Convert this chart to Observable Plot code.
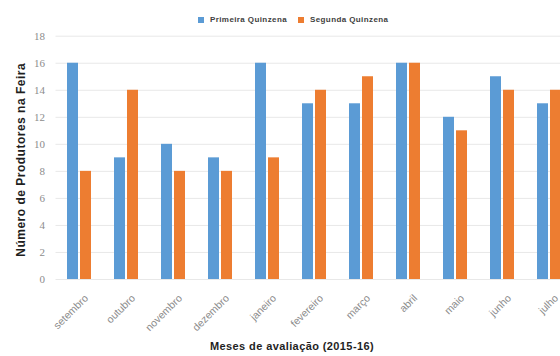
<!DOCTYPE html>
<html>
<head>
<meta charset="utf-8">
<script src="https://cdn.jsdelivr.net/npm/d3@7"></script>
<script src="https://cdn.jsdelivr.net/npm/@observablehq/plot@0.6"></script>
<style>
  html, body { margin: 0; padding: 0; background: #fff; overflow: hidden; }
  #chart { width: 560px; position: relative; }
  .legend { position: relative; height: 28px; font-family: "Liberation Sans", Arial, sans-serif; font-weight: 700; font-size: 8px; letter-spacing: 0.4px; color: #404040; }
  .legend .item { position: absolute; top: 16px; display: flex; align-items: center; white-space: nowrap; line-height: 8px; }
  .legend .sw { width: 6px; height: 6px; margin-right: 6px; }
  .titulo-y { letter-spacing: 0.5px; }
  .titulo-x { letter-spacing: 0.4px; }
</style>
</head>
<body>
<div id="chart"></div>
<script>
// Número de produtores presentes na feira, por quinzena
const meses = ["setembro", "outubro", "novembro", "dezembro", "janeiro", "fevereiro", "março", "abril", "maio", "junho", "julho"];
const primeiraQuinzena = [16, 9, 10, 9, 16, 13, 13, 16, 12, 15, 13];
const segundaQuinzena = [8, 14, 8, 8, 9, 14, 15, 16, 11, 14, 14];
const series = ["Primeira Quinzena", "Segunda Quinzena"];
const cores = ["#5B9BD5", "#ED7D31"];
const yTicks = [0, 2, 4, 6, 8, 10, 12, 14, 16, 18];

const linhas1 = meses.map((m, i) => ({mes: m, valor: primeiraQuinzena[i]}));
const linhas2 = meses.map((m, i) => ({mes: m, valor: segundaQuinzena[i]}));

const root = document.getElementById("chart");

// Legenda
const legend = document.createElement("div");
legend.className = "legend";
const posLegenda = [198, 298];
series.forEach((s, i) => {
  const item = document.createElement("div");
  item.className = "item";
  item.style.left = posLegenda[i] + "px";
  const sw = document.createElement("span");
  sw.className = "sw";
  sw.style.background = cores[i];
  const tx = document.createElement("span");
  tx.textContent = s;
  item.append(sw, tx);
  legend.append(item);
});
root.append(legend);

const plot = Plot.plot({
  width: 560,
  height: 328,
  marginLeft: 55.5,
  marginRight: -12.5,
  marginTop: 7.7,
  marginBottom: 77,
  x: {type: "band", domain: meses, padding: 0, round: false, axis: null},
  y: {domain: [0, 18]},
  marks: [
    Plot.ruleY(yTicks, {stroke: "#e8e8e8", strokeWidth: 1}),
    Plot.barY(linhas1, {x: "mes", y: "valor", fill: cores[0], insetLeft: 11.5, insetRight: 24.5}),
    Plot.barY(linhas2, {x: "mes", y: "valor", fill: cores[1], insetLeft: 24.5, insetRight: 11.5}),
    Plot.axisY({
      ticks: yTicks, tickSize: 0, tickPadding: 11, label: null,
      fontFamily: "Liberation Serif, serif", fontSize: 11, fill: "#8c8c8c"
    }),
    // Rótulos dos meses, inclinados a 45°
    Plot.text(meses, {
      x: d => d, frameAnchor: "bottom", rotate: -45, textAnchor: "end", lineAnchor: "top",
      dx: 4, dy: 14, fontFamily: "Liberation Sans, sans-serif", fontSize: 10.5, fill: "#8c8c8c"
    }),
    Plot.text(["Número de Produtores na Feira"], {
      frameAnchor: "left", rotate: -90, textAnchor: "middle", dx: -35, dy: 2, fontWeight: "bold",
      fontFamily: "Liberation Sans, sans-serif", fontSize: 12, fill: "#1f1f1f", className: "titulo-y"
    }),
    Plot.text(["Meses de avaliação (2015-16)"], {
      frameAnchor: "bottom", dx: -22.5, dy: 70, fontWeight: "bold",
      fontFamily: "Liberation Sans, sans-serif", fontSize: 11, fill: "#1f1f1f", className: "titulo-x"
    })
  ]
});
root.append(plot);
</script>
</body>
</html>
